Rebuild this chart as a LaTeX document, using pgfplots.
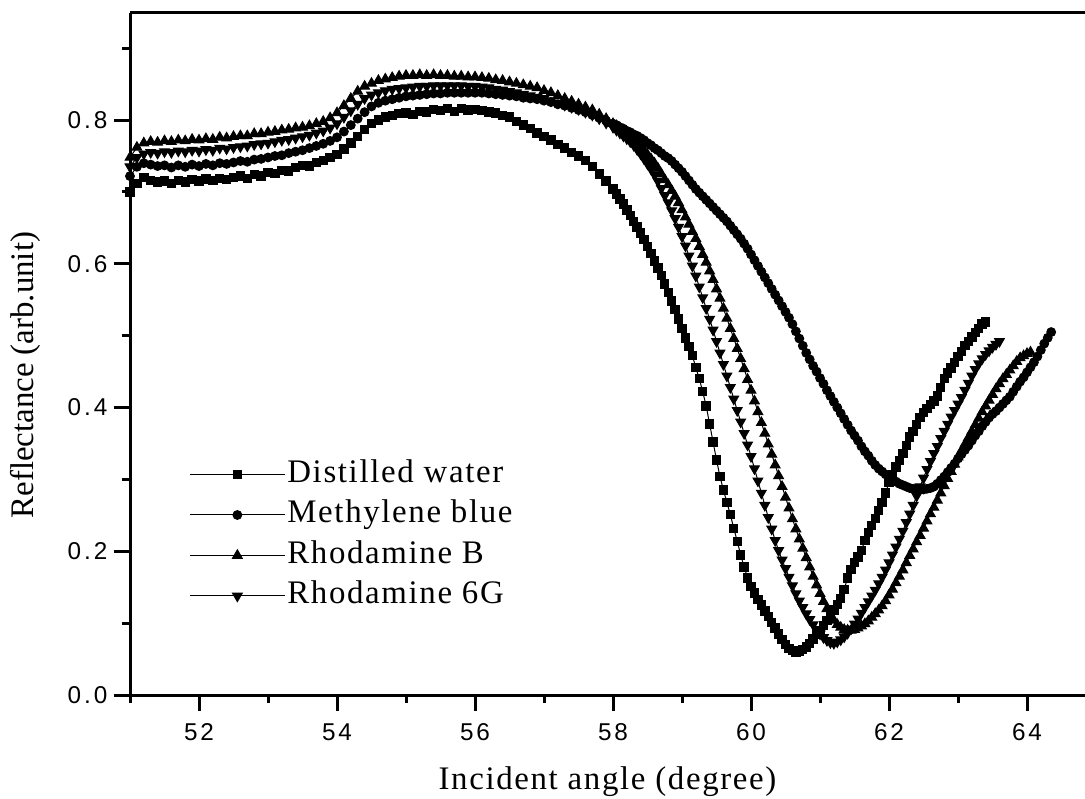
\documentclass[border=0pt]{standalone}
\usepackage{fontspec}
\usepackage{pgfplots}
\usepackage{pgfplotstable}
\pgfplotsset{compat=1.18}
\setmainfont{Liberation Serif}
\newfontfamily\ticksfont[LetterSpace=12]{Liberation Sans}
\newfontfamily\labfont[LetterSpace=5]{Liberation Serif}

% Reflectance curves, angle (deg) vs reflectance
\pgfplotstableread{
x y
51.0 0.700
51.1 0.712
51.2 0.720
51.3 0.716
51.4 0.714
51.5 0.715
51.6 0.712
51.7 0.716
51.8 0.714
51.9 0.717
52.0 0.715
52.1 0.718
52.2 0.716
52.3 0.719
52.4 0.717
52.5 0.720
52.6 0.722
52.7 0.719
52.8 0.724
52.9 0.722
53.0 0.727
53.1 0.726
53.2 0.730
53.3 0.729
53.4 0.734
53.5 0.737
53.6 0.736
53.7 0.741
53.8 0.744
53.9 0.748
54.0 0.752
54.1 0.760
54.2 0.768
54.3 0.777
54.4 0.787
54.5 0.795
54.6 0.800
54.7 0.804
54.8 0.806
54.9 0.809
55.0 0.810
55.1 0.808
55.2 0.812
55.3 0.811
55.4 0.815
55.5 0.813
55.6 0.816
55.7 0.812
55.8 0.816
55.9 0.814
56.0 0.815
56.1 0.813
56.2 0.811
56.3 0.810
56.4 0.806
56.5 0.804
56.6 0.798
56.7 0.793
56.8 0.788
56.9 0.782
57.0 0.777
57.1 0.772
57.2 0.766
57.3 0.761
57.4 0.755
57.5 0.750
57.6 0.744
57.7 0.735
57.8 0.725
57.9 0.715
58.00 0.704
58.05 0.697
58.10 0.690
58.15 0.683
58.20 0.675
58.25 0.667
58.30 0.659
58.35 0.651
58.40 0.643
58.45 0.634
58.50 0.624
58.55 0.614
58.60 0.604
58.65 0.594
58.70 0.584
58.75 0.572
58.80 0.560
58.85 0.548
58.90 0.536
58.95 0.523
59.00 0.510
59.05 0.497
59.10 0.485
59.15 0.472
59.20 0.456
59.25 0.440
59.30 0.422
59.35 0.402
59.40 0.377
59.45 0.352
59.50 0.327
59.55 0.304
59.60 0.285
59.65 0.268
59.70 0.251
59.75 0.232
59.80 0.214
59.85 0.195
59.90 0.178
59.95 0.163
60.00 0.151
60.05 0.142
60.10 0.133
60.15 0.125
60.20 0.117
60.25 0.109
60.30 0.101
60.35 0.093
60.40 0.085
60.45 0.077
60.50 0.070
60.55 0.065
60.60 0.062
60.65 0.060
60.70 0.061
60.75 0.063
60.80 0.067
60.85 0.072
60.90 0.078
60.95 0.084
61.00 0.090
61.05 0.097
61.10 0.104
61.15 0.111
61.20 0.118
61.25 0.126
61.30 0.134
61.35 0.147
61.40 0.163
61.45 0.175
61.50 0.184
61.55 0.192
61.60 0.201
61.65 0.215
61.70 0.226
61.75 0.236
61.80 0.246
61.85 0.257
61.90 0.268
61.95 0.281
62.00 0.296
62.05 0.307
62.10 0.317
62.15 0.326
62.20 0.336
62.25 0.347
62.30 0.359
62.35 0.367
62.40 0.376
62.45 0.386
62.50 0.393
62.55 0.399
62.60 0.404
62.65 0.409
62.70 0.416
62.75 0.428
62.80 0.440
62.85 0.448
62.90 0.455
62.95 0.463
63.00 0.471
63.05 0.478
63.10 0.486
63.15 0.492
63.20 0.498
63.25 0.504
63.30 0.510
63.35 0.516
63.40 0.519
}\water

\pgfplotstableread{
x y
51.0 0.722
51.1 0.735
51.2 0.740
51.3 0.738
51.4 0.736
51.5 0.737
51.6 0.734
51.7 0.737
51.8 0.735
51.9 0.738
52.0 0.736
52.1 0.739
52.2 0.737
52.3 0.740
52.4 0.739
52.5 0.741
52.6 0.743
52.7 0.742
52.8 0.745
52.9 0.746
53.0 0.748
53.1 0.750
53.2 0.751
53.3 0.754
53.4 0.756
53.5 0.758
53.6 0.761
53.7 0.764
53.8 0.767
53.9 0.771
54.0 0.776
54.1 0.784
54.2 0.793
54.3 0.802
54.4 0.811
54.5 0.819
54.6 0.824
54.7 0.827
54.8 0.829
54.9 0.831
55.0 0.833
55.1 0.834
55.2 0.835
55.3 0.836
55.4 0.837
55.5 0.837
55.6 0.838
55.7 0.838
55.8 0.838
55.9 0.838
56.0 0.838
56.1 0.838
56.2 0.837
56.3 0.836
56.4 0.835
56.5 0.834
56.6 0.833
56.7 0.831
56.8 0.830
56.9 0.829
57.0 0.827
57.1 0.825
57.2 0.822
57.3 0.820
57.4 0.817
57.5 0.814
57.6 0.811
57.7 0.807
57.8 0.803
57.9 0.799
58.00 0.795
58.05 0.793
58.10 0.790
58.15 0.788
58.20 0.785
58.25 0.783
58.30 0.780
58.35 0.778
58.40 0.775
58.45 0.772
58.50 0.768
58.55 0.765
58.60 0.761
58.65 0.758
58.70 0.754
58.75 0.750
58.80 0.747
58.85 0.743
58.90 0.738
58.95 0.733
59.00 0.728
59.05 0.722
59.10 0.716
59.15 0.710
59.20 0.704
59.25 0.699
59.30 0.694
59.35 0.689
59.40 0.684
59.45 0.679
59.50 0.674
59.55 0.669
59.60 0.664
59.65 0.659
59.70 0.653
59.75 0.647
59.80 0.641
59.85 0.635
59.90 0.628
59.95 0.621
60.00 0.613
60.05 0.605
60.10 0.597
60.15 0.589
60.20 0.581
60.25 0.573
60.30 0.565
60.35 0.557
60.40 0.549
60.45 0.541
60.50 0.533
60.55 0.525
60.60 0.516
60.65 0.506
60.70 0.496
60.75 0.486
60.80 0.476
60.85 0.467
60.90 0.458
60.95 0.450
61.00 0.441
61.05 0.433
61.10 0.424
61.15 0.416
61.20 0.408
61.25 0.400
61.30 0.392
61.35 0.384
61.40 0.376
61.45 0.368
61.50 0.361
61.55 0.354
61.60 0.346
61.65 0.339
61.70 0.333
61.75 0.326
61.80 0.320
61.85 0.315
61.90 0.311
61.95 0.307
62.00 0.303
62.05 0.300
62.10 0.297
62.15 0.294
62.20 0.292
62.25 0.290
62.30 0.288
62.35 0.287
62.40 0.286
62.45 0.286
62.50 0.286
62.55 0.287
62.60 0.288
62.65 0.290
62.70 0.294
62.75 0.299
62.80 0.304
62.85 0.310
62.90 0.316
62.95 0.322
63.00 0.329
63.05 0.335
63.10 0.341
63.15 0.347
63.20 0.354
63.25 0.361
63.30 0.367
63.35 0.374
63.40 0.380
63.45 0.386
63.50 0.391
63.55 0.395
63.60 0.400
63.65 0.405
63.70 0.410
63.75 0.415
63.80 0.422
63.85 0.429
63.90 0.436
63.95 0.442
64.00 0.449
64.05 0.456
64.10 0.463
64.15 0.471
64.20 0.480
64.25 0.489
64.30 0.497
64.35 0.505
}\mblue

\pgfplotstableread{
x y
51.0 0.748
51.1 0.762
51.2 0.768
51.3 0.770
51.4 0.769
51.5 0.771
51.6 0.770
51.7 0.772
51.8 0.771
51.9 0.773
52.0 0.772
52.1 0.774
52.2 0.773
52.3 0.776
52.4 0.775
52.5 0.777
52.6 0.778
52.7 0.778
52.8 0.781
52.9 0.781
53.0 0.783
53.1 0.784
53.2 0.786
53.3 0.787
53.4 0.789
53.5 0.790
53.6 0.792
53.7 0.795
53.8 0.798
53.9 0.803
54.0 0.810
54.1 0.820
54.2 0.830
54.3 0.840
54.4 0.847
54.5 0.851
54.6 0.855
54.7 0.857
54.8 0.859
54.9 0.861
55.0 0.862
55.1 0.862
55.2 0.863
55.3 0.862
55.4 0.863
55.5 0.862
55.6 0.862
55.7 0.861
55.8 0.861
55.9 0.860
56.0 0.860
56.1 0.859
56.2 0.858
56.3 0.856
56.4 0.855
56.5 0.853
56.6 0.851
56.7 0.849
56.8 0.847
56.9 0.845
57.0 0.841
57.1 0.838
57.2 0.834
57.3 0.830
57.4 0.826
57.5 0.822
57.6 0.818
57.7 0.814
57.8 0.808
57.9 0.802
58.00 0.795
58.05 0.792
58.10 0.789
58.15 0.786
58.20 0.782
58.25 0.779
58.30 0.775
58.35 0.770
58.40 0.764
58.45 0.758
58.50 0.752
58.55 0.746
58.60 0.740
58.65 0.733
58.70 0.725
58.75 0.717
58.80 0.710
58.85 0.702
58.90 0.694
58.95 0.685
59.00 0.675
59.05 0.665
59.10 0.655
59.15 0.645
59.20 0.635
59.25 0.624
59.30 0.613
59.35 0.602
59.40 0.590
59.45 0.578
59.50 0.565
59.55 0.552
59.60 0.538
59.65 0.524
59.70 0.510
59.75 0.496
59.80 0.482
59.85 0.468
59.90 0.454
59.95 0.439
60.00 0.424
60.05 0.409
60.10 0.394
60.15 0.379
60.20 0.364
60.25 0.349
60.30 0.335
60.35 0.320
60.40 0.305
60.45 0.290
60.50 0.275
60.55 0.260
60.60 0.245
60.65 0.231
60.70 0.217
60.75 0.204
60.80 0.191
60.85 0.178
60.90 0.165
60.95 0.153
61.00 0.141
61.05 0.130
61.10 0.120
61.15 0.111
61.20 0.104
61.25 0.098
61.30 0.094
61.35 0.091
61.40 0.090
61.45 0.090
61.50 0.091
61.55 0.093
61.60 0.096
61.65 0.099
61.70 0.103
61.75 0.108
61.80 0.113
61.85 0.118
61.90 0.124
61.95 0.131
62.00 0.139
62.05 0.147
62.10 0.156
62.15 0.165
62.20 0.174
62.25 0.184
62.30 0.194
62.35 0.203
62.40 0.213
62.45 0.222
62.50 0.232
62.55 0.242
62.60 0.252
62.65 0.261
62.70 0.271
62.75 0.281
62.80 0.291
62.85 0.301
62.90 0.311
62.95 0.321
63.00 0.331
63.05 0.340
63.10 0.349
63.15 0.358
63.20 0.367
63.25 0.376
63.30 0.385
63.35 0.394
63.40 0.402
63.45 0.410
63.50 0.418
63.55 0.426
63.60 0.433
63.65 0.440
63.70 0.446
63.75 0.452
63.80 0.458
63.85 0.464
63.90 0.469
63.95 0.472
64.00 0.475
64.05 0.477
}\rhodB

\pgfplotstableread{
x y
51.0 0.735
51.1 0.748
51.2 0.753
51.3 0.755
51.4 0.754
51.5 0.756
51.6 0.755
51.7 0.757
51.8 0.756
51.9 0.758
52.0 0.757
52.1 0.759
52.2 0.758
52.3 0.761
52.4 0.760
52.5 0.762
52.6 0.763
52.7 0.764
52.8 0.766
52.9 0.767
53.0 0.768
53.1 0.770
53.2 0.772
53.3 0.773
53.4 0.775
53.5 0.777
53.6 0.779
53.7 0.782
53.8 0.785
53.9 0.789
54.0 0.795
54.1 0.804
54.2 0.813
54.3 0.822
54.4 0.830
54.5 0.835
54.6 0.838
54.7 0.841
54.8 0.843
54.9 0.844
55.0 0.845
55.1 0.846
55.2 0.847
55.3 0.847
55.4 0.848
55.5 0.848
55.6 0.848
55.7 0.848
55.8 0.848
55.9 0.847
56.0 0.847
56.1 0.846
56.2 0.845
56.3 0.843
56.4 0.842
56.5 0.840
56.6 0.838
56.7 0.836
56.8 0.834
56.9 0.832
57.0 0.830
57.1 0.827
57.2 0.824
57.3 0.821
57.4 0.818
57.5 0.815
57.6 0.811
57.7 0.807
57.8 0.802
57.9 0.796
58.00 0.790
58.05 0.786
58.10 0.782
58.15 0.778
58.20 0.774
58.25 0.770
58.30 0.765
58.35 0.759
58.40 0.753
58.45 0.746
58.50 0.739
58.55 0.732
58.60 0.724
58.65 0.715
58.70 0.705
58.75 0.695
58.80 0.685
58.85 0.674
58.90 0.663
58.95 0.651
59.00 0.638
59.05 0.625
59.10 0.611
59.15 0.597
59.20 0.583
59.25 0.568
59.30 0.553
59.35 0.538
59.40 0.523
59.45 0.508
59.50 0.492
59.55 0.476
59.60 0.460
59.65 0.444
59.70 0.428
59.75 0.412
59.80 0.396
59.85 0.380
59.90 0.364
59.95 0.348
60.00 0.332
60.05 0.315
60.10 0.298
60.15 0.281
60.20 0.264
60.25 0.247
60.30 0.231
60.35 0.215
60.40 0.201
60.45 0.188
60.50 0.176
60.55 0.164
60.60 0.152
60.65 0.141
60.70 0.131
60.75 0.122
60.80 0.113
60.85 0.105
60.90 0.098
60.95 0.091
61.00 0.085
61.05 0.080
61.10 0.076
61.15 0.073
61.20 0.072
61.25 0.074
61.30 0.077
61.35 0.081
61.40 0.086
61.45 0.092
61.50 0.099
61.55 0.106
61.60 0.114
61.65 0.122
61.70 0.130
61.75 0.138
61.80 0.146
61.85 0.155
61.90 0.164
61.95 0.174
62.00 0.184
62.05 0.195
62.10 0.206
62.15 0.217
62.20 0.228
62.25 0.240
62.30 0.252
62.35 0.264
62.40 0.277
62.45 0.290
62.50 0.302
62.55 0.314
62.60 0.325
62.65 0.336
62.70 0.346
62.75 0.357
62.80 0.367
62.85 0.377
62.90 0.387
62.95 0.396
63.00 0.405
63.05 0.414
63.10 0.424
63.15 0.434
63.20 0.444
63.25 0.453
63.30 0.461
63.35 0.468
63.40 0.474
63.45 0.479
63.50 0.484
63.55 0.488
63.60 0.492
}\rhodG

\begin{document}
\begin{tikzpicture}
\begin{axis}[
  scale only axis,
  width=477.5bp, height=341bp,
  xmin=51, xmax=64.84, ymin=0, ymax=0.949,
  axis x line*=box, axis y line*=left,
  axis line style={line width=1.5bp},
  every tick/.style={black, line width=1.5bp},
  tick align=outside,
  major tick length=7.8bp, minor tick length=4bp,
  xtick={52,54,...,64}, minor xtick={51,53,...,63},
  ytick={0,0.2,...,0.81}, minor ytick={0.1,0.3,0.5,0.7,0.9},
  xtick pos=bottom, ytick pos=left,
  /pgf/number format/assume math mode=true,
  yticklabel style={/pgf/number format/fixed, /pgf/number format/fixed zerofill,
    /pgf/number format/precision=1},
  xticklabel style={font=\ticksfont\fontsize{12.2}{13}\selectfont, yshift=-3bp},
  yticklabel style={font=\ticksfont\fontsize{12.2}{13}\selectfont},
  xlabel={Incident angle (degree)},
  ylabel={Reflectance (arb.unit)},
  xlabel style={font=\labfont\fontsize{16.5}{18}\selectfont,
    at={(axis description cs:0.5,-0.1276)}, anchor=center},
  ylabel style={font=\rmfamily\fontsize{16.5}{18}\selectfont,
    at={(axis description cs:-0.11,0.469)}, anchor=center},
  legend cell align=left,
  legend style={draw=none, fill=none, at={(axis cs:51.768,0.338)}, anchor=north west,
    font=\labfont\fontsize{16.5}{18}\selectfont, row sep=2.25bp,
    nodes={inner sep=1bp, text height=12bp, text depth=4bp}},
  legend image code/.code={\draw[mark repeat=2, mark phase=2, line width=0.5bp]
    plot coordinates {(0bp,0bp) (23.75bp,0bp) (47.5bp,0bp)};},
  every axis plot/.append style={black, line width=0.5bp},
]
\addplot[mark=square*, mark size=2.1bp] table {\water};
\addlegendentry{Distilled water}
\addplot[mark=*, mark size=2.2bp] table {\mblue};
\addlegendentry{Methylene blue}
\addplot[mark=triangle*, mark size=2.8bp] table {\rhodB};
\addlegendentry{Rhodamine B}
\addplot[mark=triangle*, mark size=2.8bp, mark options={rotate=180}] table {\rhodG};
\addlegendentry{Rhodamine 6G}
\end{axis}
\pgfresetboundingbox
\path[use as bounding box] (-65bp,-52bp) rectangle (477.5bp,347.5bp);
\end{tikzpicture}
\end{document}
